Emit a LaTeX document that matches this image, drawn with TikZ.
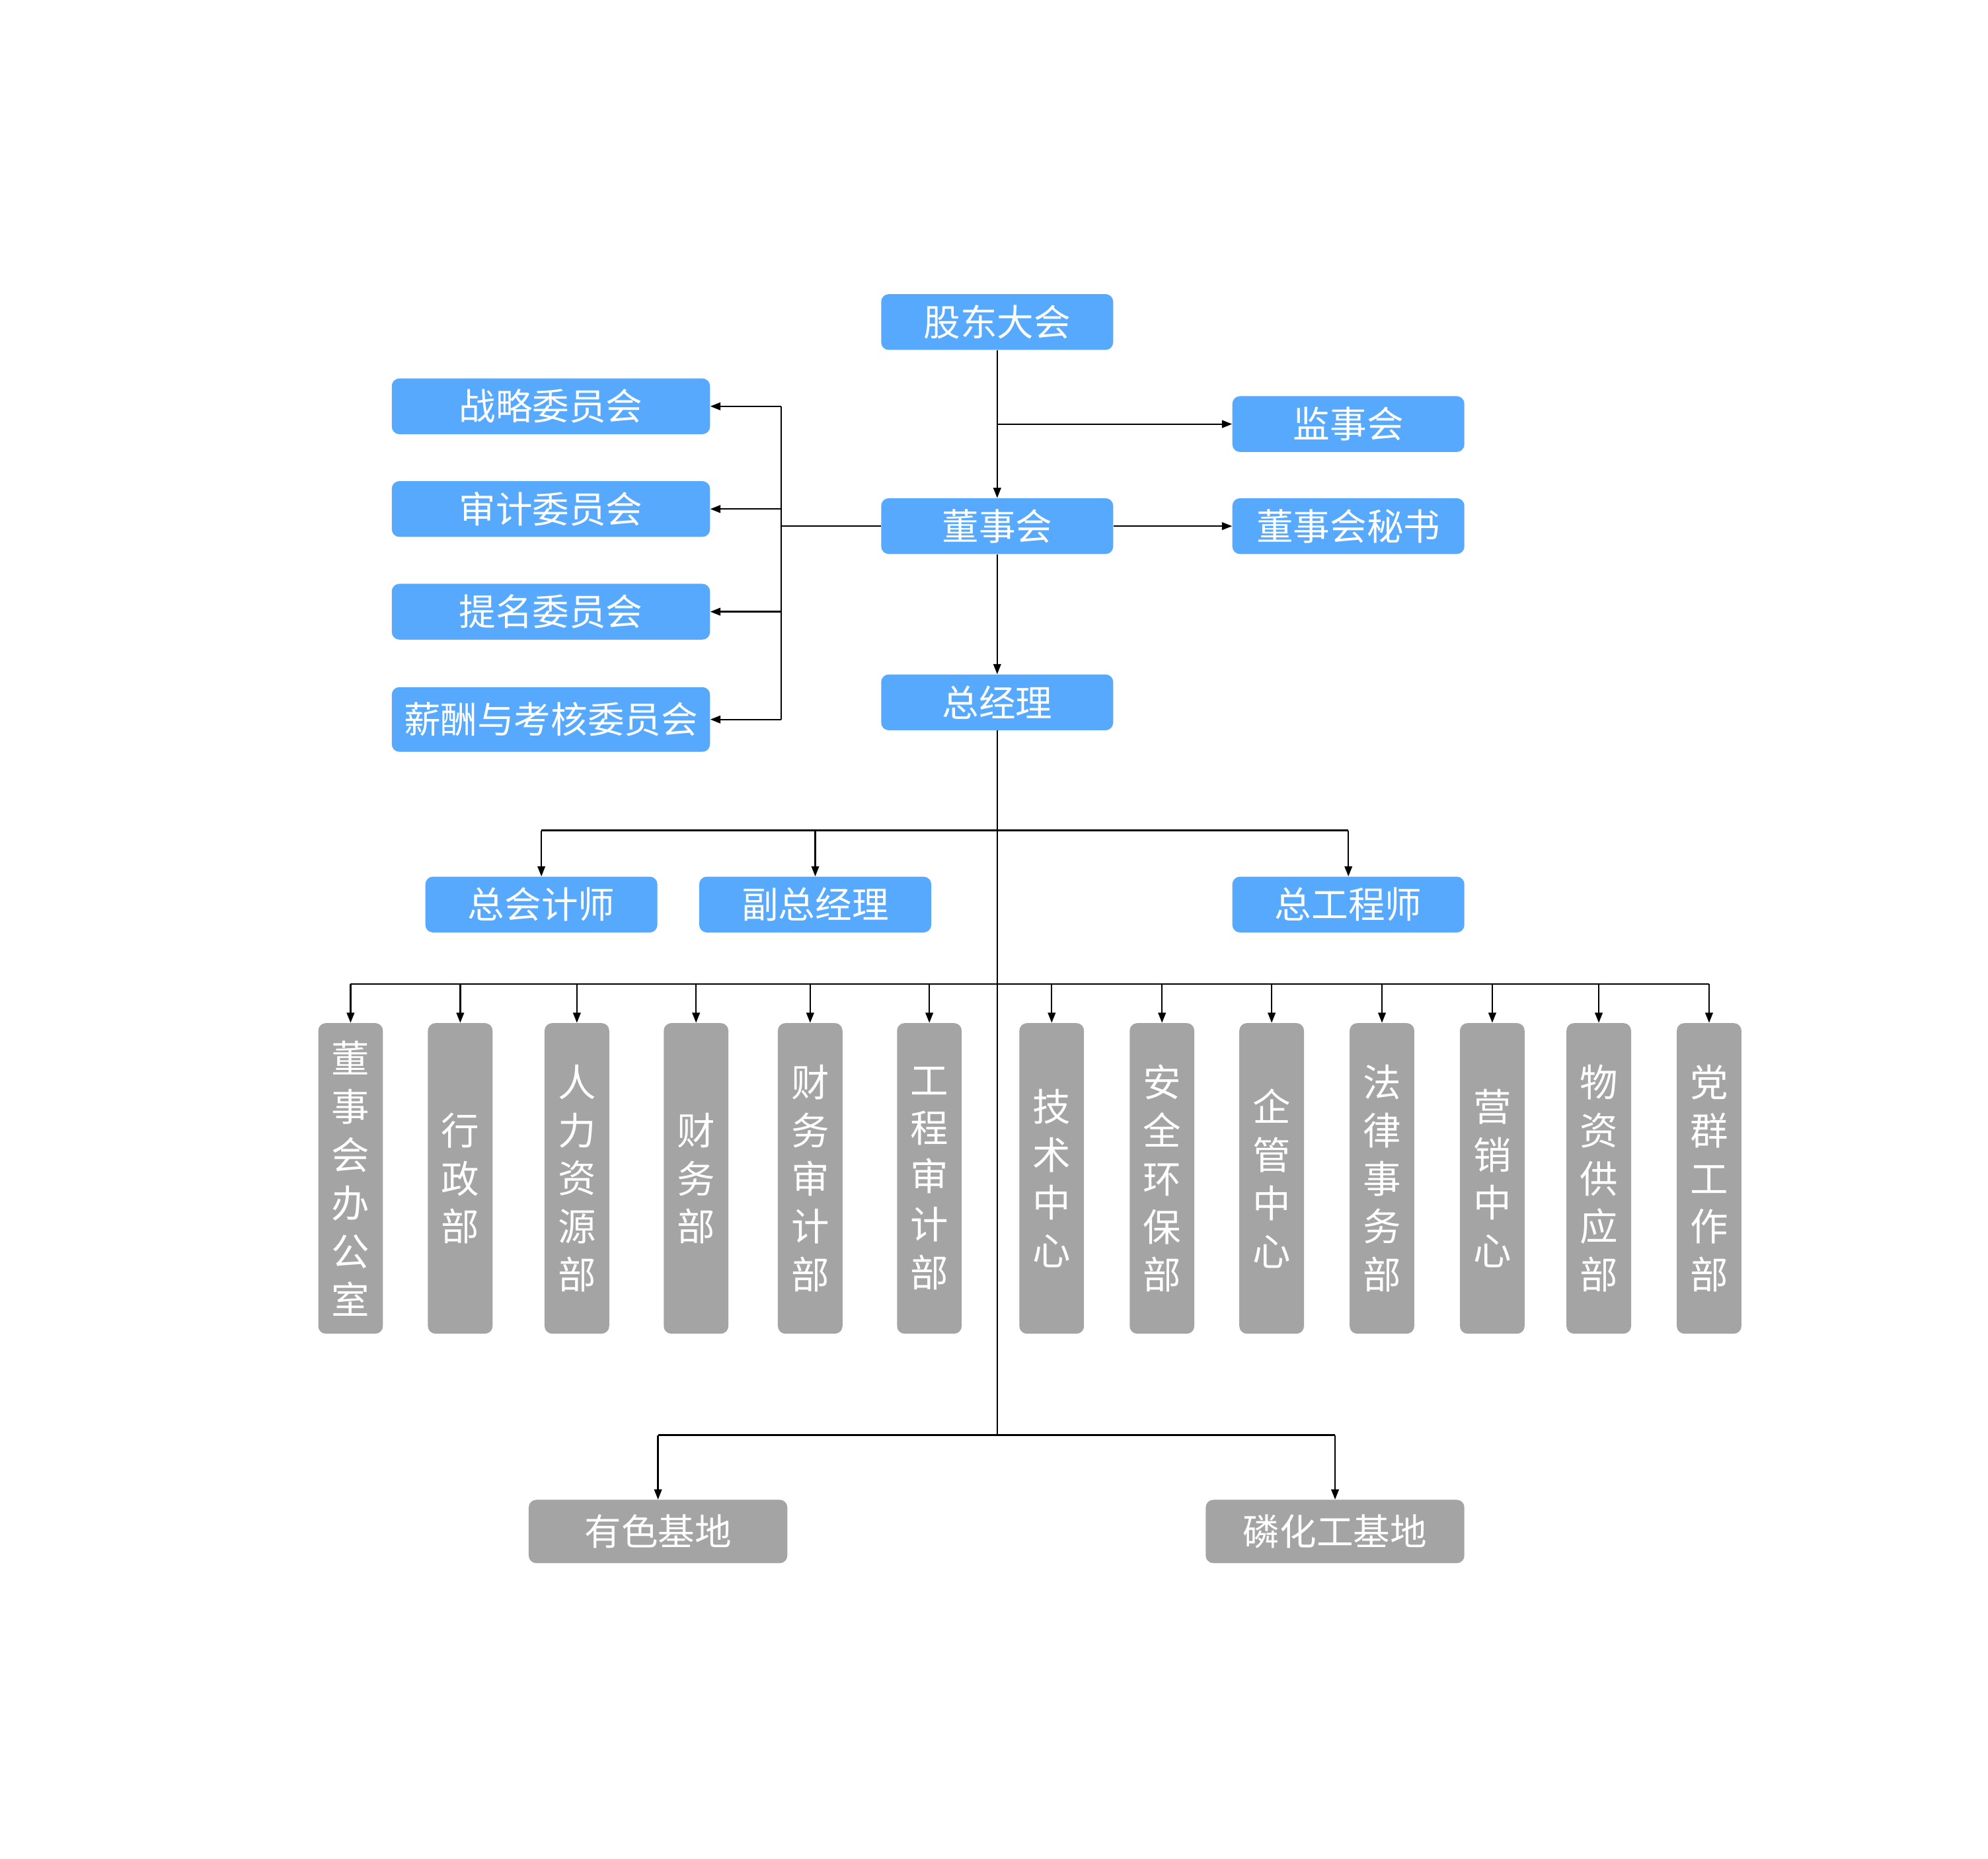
\documentclass[tikz,border=0pt]{standalone}
\usepackage{fontspec}
\newfontfamily\cjkfont{Noto Sans CJK SC}
\usetikzlibrary{arrows.meta}
\definecolor{boxblue}{HTML}{56A9FD}
\definecolor{boxgray}{HTML}{A4A4A4}

\begin{document}
\begin{tikzpicture}[
    x=1pt, y=-1pt,
    bluebox/.style={fill=boxblue, rounded corners=6pt, text=white, inner sep=0pt,
        minimum width=183pt, minimum height=44pt, font=\cjkfont\fontsize{29}{34}\selectfont},
    combox/.style={bluebox, minimum width=251pt},
    deptbox/.style={fill=boxgray, rounded corners=6pt, text=white, inner sep=0pt,
        minimum width=51pt, minimum height=245pt, align=center,
        font=\cjkfont\fontsize{30}{38}\selectfont},
    basebox/.style={fill=boxgray, rounded corners=6pt, text=white, inner sep=0pt,
        minimum width=204pt, minimum height=50pt, font=\cjkfont\fontsize{29}{34}\selectfont},
    link/.style={line width=1.2pt, black},
    arr/.style={link, -{Triangle[length=8pt,width=6pt]}},
]
\useasboundingbox (0,0) rectangle (1568,1466);
% top levels
\node[bluebox] (gd) at (786.5,254) {股东大会};
\node[bluebox] (jsh) at (1063.5,334.5) {监事会};
\node[bluebox] (dsh) at (786.5,415) {董事会};
\node[bluebox] (ms) at (1063.5,415) {董事会秘书};
\node[bluebox] (zjl) at (786.5,554) {总经理};
% committees
\node[combox] (zl) at (434.5,320.5) {战略委员会};
\node[combox] (sj) at (434.5,401.5) {审计委员会};
\node[combox] (tm) at (434.5,482.5) {提名委员会};
\node[combox, minimum height=51pt] (xc) at (434.5,567.5) {薪酬与考核委员会};
% managers
\node[bluebox] (zkj) at (427,713.5) {总会计师};
\node[bluebox] (fz) at (643,713.5) {副总经理};
\node[bluebox] (zgc) at (1063.5,713.5) {总工程师};

\draw[arr] (gd) -- (dsh);
\draw[arr] (gd.south |- jsh.west) -- (jsh.west);
\draw[arr] (dsh) -- (ms);
\draw[arr] (dsh) -- (zjl);

\coordinate (cbus) at (616,415);
\draw[link] (dsh.west) -- (cbus);
\draw[link] (cbus |- zl.east) -- (cbus |- xc.east);
\foreach \c in {zl,sj,tm,xc}
    \draw[arr] (cbus |- \c.east) -- (\c.east);

% trunk below general manager
\coordinate (mbus) at (786.5,655);
\coordinate (dbus) at (786.5,776);
\coordinate (bbus) at (786.5,1132);
\draw[link] (zjl.south) -- (bbus);
\draw[link] (zkj.north |- mbus) -- (zgc.north |- mbus);
\foreach \m in {zkj,fz,zgc}
    \draw[arr] (\m.north |- mbus) -- (\m.north);

% departments
\foreach \x/\lbl [count=\i] in {276.5/{董\\事\\会\\办\\公\\室}, 363/{行\\政\\部},
    455/{人\\力\\资\\源\\部}, 549/{财\\务\\部}, 639/{财\\务\\审\\计\\部},
    733/{工\\程\\审\\计\\部}, 829.5/{技\\术\\中\\心}, 916.5/{安\\全\\环\\保\\部},
    1003/{企\\管\\中\\心}, 1090/{法\\律\\事\\务\\部}, 1177/{营\\销\\中\\心},
    1261/{物\\资\\供\\应\\部}, 1348/{党\\群\\工\\作\\部}}
{
    \node[deptbox] (d\i) at (\x,929.5) {\lbl};
    \draw[arr] (d\i.north |- dbus) -- (d\i.north);
}
\draw[link] (d1.north |- dbus) -- (d13.north |- dbus);

% bases
\node[basebox] (ys) at (519,1208) {有色基地};
\node[basebox] (lhg) at (1053,1208) {磷化工基地};
\draw[link] (ys.north |- bbus) -- (lhg.north |- bbus);
\draw[arr] (ys.north |- bbus) -- (ys.north);
\draw[arr] (lhg.north |- bbus) -- (lhg.north);
\end{tikzpicture}
\end{document}
